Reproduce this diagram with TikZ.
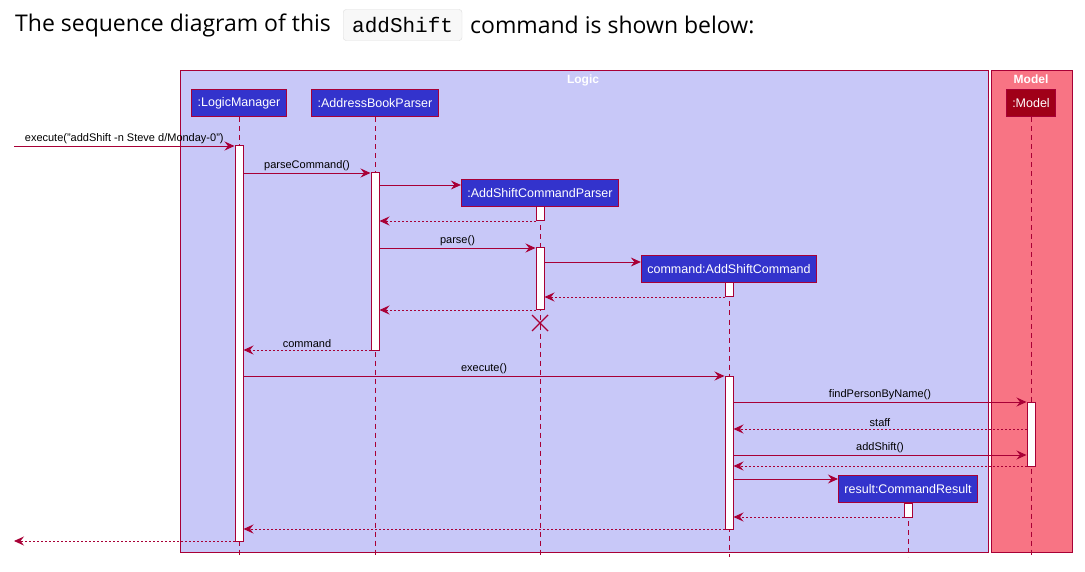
\documentclass[tikz,border=0pt]{standalone}
\usepackage{fontspec}
\setmainfont{Liberation Sans}
\newfontfamily\titlefont{Open Sans}
\newfontfamily\codefont{Liberation Mono}
\usetikzlibrary{arrows.meta}
\definecolor{crim}{HTML}{A80036}
\definecolor{logicbg}{HTML}{C8C8F8}
\definecolor{modelbg}{HTML}{F87484}
\definecolor{partblue}{HTML}{3333CC}
\definecolor{partred}{HTML}{A00018}
\tikzset{
  frame/.style={draw=crim, line width=1.2pt},
  part/.style={draw=crim, line width=1pt, fill=partblue, text=white, font=\fontsize{12.5}{14}\selectfont, minimum height=27pt, inner xsep=6pt, inner ysep=0pt},
  lifeline/.style={draw=crim, line width=0.9pt, dash pattern=on 5pt off 4pt},
  act/.style={draw=crim, fill=white, line width=1pt, minimum width=8pt, inner sep=0pt},
  msg/.style={draw=crim, line width=0.9pt, -{Stealth[length=10pt,width=9pt,inset=3.5pt]}},
  ret/.style={msg, dash pattern=on 2pt off 2pt},
  lbl/.style={font=\fontsize{11}{12}\selectfont, text=black, inner sep=2pt},
  ftitle/.style={font=\bfseries\fontsize{12}{14}\selectfont, text=white},
}
\begin{document}
\begin{tikzpicture}[x=1pt, y=-1pt]
\path[fill=white, use as bounding box] (0,0) rectangle (1085,572);
% title
\node[anchor=west, font=\titlefont\fontsize{23}{27}\selectfont, inner sep=0pt] (t1) at (15,25) {The sequence diagram of this};
\node[draw={rgb,255:red,222;green,222;blue,222}, fill={rgb,255:red,248;green,248;blue,248}, rounded corners=3pt, font=\codefont\fontsize{21}{24}\selectfont, minimum height=31pt, inner xsep=9pt, anchor=west] (code) at (343,25) {addShift};
\node[anchor=west, font=\titlefont\fontsize{23}{27}\selectfont, inner sep=0pt] (t2) at (470,25) {command is shown below:};
% frames
\node[frame, fill=logicbg, minimum width=808pt, minimum height=482pt, anchor=north west, inner sep=0pt] (logic) at (180,70) {};
\node[frame, fill=modelbg, minimum width=81pt, minimum height=482pt, anchor=north west, inner sep=0pt] (model) at (991,70) {};
\node[ftitle, anchor=north] (logicT) at (583,71) {Logic};
\node[ftitle, anchor=north] (modelT) at (1031,71) {Model};
% participants
\node[part] (lm) at (239,103.5) {:LogicManager};
\node[part] (abp) at (375,103.5) {:AddressBookParser};
\node[part, fill=partred] (md) at (1031,103.5) {:Model};
\node[part] (ascp) at (540,193.5) {:AddShiftCommandParser};
\node[part] (asc) at (729,269.5) {command:AddShiftCommand};
\node[part] (cr) at (908,489) {result:CommandResult};
% lifelines
\coordinate (lmE) at (239,557);
\coordinate (abpE) at (375,557);
\coordinate (mdE) at (1031,557);
\coordinate (ascpE) at (540,557);
\coordinate (ascE) at (729,557);
\coordinate (crE) at (908,557);
\draw[lifeline] (lm.south) -- (lmE);
\draw[lifeline] (abp.south) -- (abpE);
\draw[lifeline] (md.south) -- (mdE);
\draw[lifeline] (ascp.south) -- (ascpE);
\draw[lifeline] (asc.south) -- (ascE);
\draw[lifeline] (cr.south) -- (crE);
% activations
\node[act, minimum height=395pt] (lmA) at (239,343.5) {};
\node[act, minimum height=177pt] (abA) at (375,261.5) {};
\node[act, minimum height=14pt] (pA1) at (540,214) {};
\node[act, minimum height=62pt] (pA2) at (540,279) {};
\node[act, minimum height=14pt] (cA1) at (729,290) {};
\node[act, minimum height=153pt] (cA2) at (729,452.5) {};
\node[act, minimum height=64pt] (mA) at (1031,434) {};
\node[act, minimum height=14pt] (rA) at (908,510) {};
% destroy
\coordinate (dx) at (540,323);
\draw[crim, line width=1.4pt] ([shift={(-8,-8)}]dx) -- ([shift={(8,8)}]dx) ([shift={(-8,8)}]dx) -- ([shift={(8,-8)}]dx);
% messages
\coordinate (inS) at (14,146);
\coordinate (outE) at (14,541);
\draw[msg] (inS) -- (lmA.west |- inS) node[lbl, midway, above] {execute("addShift -n Steve d/Monday-0")};
\draw[msg] (lmA.east |- 0,173) -- (abA.west |- 0,173) node[lbl, midway, above] {parseCommand()};
\draw[msg] (abA.east |- 0,185) -- (ascp.west |- 0,185);
\draw[ret] (pA1.west |- 0,221) -- (abA.east |- 0,221);
\draw[msg] (abA.east |- 0,248) -- (pA2.west |- 0,248) node[lbl, midway, above] {parse()};
\draw[msg] (pA2.east |- 0,262) -- (asc.west |- 0,262);
\draw[ret] (cA1.west |- 0,297) -- (pA2.east |- 0,297);
\draw[ret] (pA2.west |- 0,310) -- (abA.east |- 0,310);
\draw[ret] (abA.west |- 0,350) -- (lmA.east |- 0,350) node[lbl, midway, above] {command};
\draw[msg] (lmA.east |- 0,376) -- (cA2.west |- 0,376) node[lbl, midway, above] {execute()};
\draw[msg] (cA2.east |- 0,402) -- (mA.west |- 0,402) node[lbl, midway, above] {findPersonByName()};
\draw[ret] (mA.west |- 0,429) -- (cA2.east |- 0,429) node[lbl, midway, above] {staff};
\draw[msg] (cA2.east |- 0,455) -- (mA.west |- 0,455) node[lbl, midway, above] {addShift()};
\draw[ret] (mA.west |- 0,466) -- (cA2.east |- 0,466);
\draw[msg] (cA2.east |- 0,479) -- (cr.west |- 0,479);
\draw[ret] (rA.west |- 0,517) -- (cA2.east |- 0,517);
\draw[ret] (cA2.west |- 0,529) -- (lmA.east |- 0,529);
\draw[ret] (lmA.west |- outE) -- (outE);
\end{tikzpicture}
\end{document}
